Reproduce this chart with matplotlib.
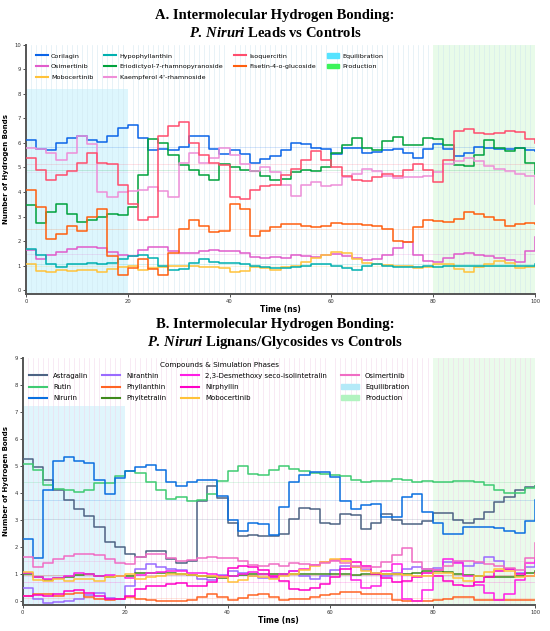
import numpy as np
import matplotlib
matplotlib.use("Agg")
import matplotlib.pyplot as plt
from matplotlib.patches import Patch
from matplotlib.lines import Line2D

plt.rcParams['font.family'] = ['DejaVu Sans']
plt.rcParams['mathtext.fontset'] = 'custom'
plt.rcParams['mathtext.it'] = 'Liberation Serif:italic:bold'
plt.rcParams['mathtext.rm'] = 'Liberation Serif:bold'

# time axis (ns), sampled every 2 ns
time_ns = [0, 2, 4, 6, 8, 10, 12, 14, 16, 18, 20, 22, 24, 26, 28, 30, 32, 34, 36, 38,
           40, 42, 44, 46, 48, 50, 52, 54, 56, 58, 60, 62, 64, 66, 68, 70, 72, 74, 76, 78,
           80, 82, 84, 86, 88, 90, 92, 94, 96, 98, 100]

# ---- panel A: leads ----
corilagin = [6.1, 5.75, 5.7, 6.0, 6.2, 6.3, 6.1, 6.05, 6.3, 6.6, 6.75, 6.2, 5.7, 5.75, 5.7, 5.85, 6.3,
             6.3, 5.75, 5.55, 5.7, 5.55, 5.2, 5.35, 5.45, 5.7, 6.0, 5.95, 5.8, 5.75, 5.55, 5.8, 5.8,
             5.6, 5.65, 5.7, 5.75, 5.6, 5.4, 5.75, 5.95, 5.75, 5.45, 5.6, 5.85, 5.8, 5.75, 5.75,
             5.78, 5.72, 5.68]
isoquercitin = [5.4, 4.9, 4.5, 4.7, 4.86, 5.2, 5.6, 5.2, 5.15, 4.3, 3.5, 2.85, 3.0, 6.3, 6.7, 6.85,
                6.0, 5.5, 5.2, 5.1, 3.8, 3.7, 4.1, 4.25, 4.3, 4.7, 4.95, 5.3, 5.67, 5.3, 5.0, 4.65,
                4.5, 4.46, 4.6, 4.73, 4.65, 4.9, 5.13, 4.9, 4.4, 5.3, 6.5, 6.55, 6.4, 6.35, 6.4,
                6.5, 6.45, 6.15, 6.0]
kaempferol = [5.8, 5.75, 5.6, 5.3, 5.6, 6.28, 5.95, 4.0, 3.8, 4.0, 4.05, 4.1, 4.19, 4.05, 3.8, 5.2,
              5.6, 5.2, 5.4, 5.8, 5.5, 5.13, 4.86, 5.0, 4.8, 4.3, 3.85, 4.3, 4.4, 4.26, 4.3, 4.6,
              4.73, 4.93, 4.85, 4.66, 4.57, 4.6, 4.6, 4.66, 4.8, 5.13, 5.27, 5.4, 5.27, 5.07, 4.93,
              4.86, 4.73, 4.65, 3.5]
eriodictyol = [3.45, 2.75, 3.2, 3.5, 3.1, 2.77, 2.85, 3.0, 3.1, 3.05, 3.4, 4.7, 6.15, 6.0, 5.5, 5.1,
               4.9, 4.7, 4.5, 5.13, 5.0, 4.9, 4.86, 4.66, 4.5, 4.55, 4.8, 4.9, 4.86, 5.0, 5.6, 5.9,
               6.2, 5.8, 5.7, 6.08, 6.25, 5.9, 5.9, 6.2, 6.15, 5.9, 5.1, 5.07, 5.5, 6.1, 5.8, 5.67,
               5.8, 5.2, 4.75]
fisetin = [4.1, 3.4, 2.1, 2.3, 2.6, 2.43, 2.97, 3.3, 1.4, 0.6, 0.9, 1.25, 0.85, 0.62, 1.5, 2.5, 2.84,
           2.63, 2.35, 2.4, 3.5, 3.3, 2.2, 2.4, 2.57, 2.7, 2.7, 2.62, 2.57, 2.62, 2.75, 2.7, 2.7,
           2.65, 2.62, 2.5, 2.0, 1.96, 2.57, 2.85, 2.82, 2.77, 2.9, 3.18, 3.1, 2.97, 2.85, 2.62,
           2.7, 2.75, 2.7]
hypophyllanthin = [1.69, 1.45, 1.05, 0.95, 1.05, 1.05, 1.1, 1.07, 1.1, 1.25, 1.4, 1.45, 1.3, 1.0,
                   0.82, 0.85, 1.1, 1.28, 1.15, 1.1, 1.1, 1.05, 0.98, 0.95, 0.9, 0.92, 0.95, 1.0,
                   1.08, 1.05, 0.97, 0.9, 0.82, 0.98, 1.07, 1.0, 0.95, 0.95, 0.95, 0.97, 0.95, 0.97,
                   0.97, 1.0, 1.0, 1.0, 1.0, 1.0, 0.98, 1.0, 1.05]

# ---- controls (shared by both panels) ----
osimertinib = [1.62, 1.25, 1.42, 1.55, 1.69, 1.76, 1.76, 1.72, 1.55, 1.42, 1.38, 1.62, 1.76, 1.74,
               1.6, 1.5, 1.52, 1.58, 1.62, 1.58, 1.6, 1.5, 1.35, 1.32, 1.36, 1.3, 1.42, 1.38, 1.35,
               1.42, 1.49, 1.4, 1.3, 1.22, 1.25, 1.45, 1.7, 1.96, 1.45, 1.2, 1.15, 1.3, 1.49, 1.5,
               1.45, 1.38, 1.3, 1.22, 1.15, 1.6, 2.16]
mobocertinib = [1.08, 0.78, 0.75, 0.84, 0.76, 0.81, 0.81, 0.75, 0.88, 0.95, 1.0, 0.84, 0.9, 0.95,
                1.0, 1.0, 0.98, 0.95, 0.95, 0.9, 0.72, 0.78, 0.95, 0.9, 0.82, 0.95, 1.0, 1.15, 1.3,
                1.45, 1.55, 1.5, 1.25, 1.12, 1.05, 1.02, 1.0, 0.97, 0.92, 0.95, 1.05, 1.05, 0.85,
                0.75, 0.95, 1.08, 1.2, 1.1, 0.9, 0.95, 1.0]

# ---- panel B: lignans / glycosides ----
astragalin = [5.27, 4.95, 4.5, 4.1, 3.75, 3.4, 3.15, 2.75, 2.2, 2.0, 1.75, 1.62, 1.85, 1.85, 1.55,
              1.42, 1.5, 3.7, 4.27, 3.8, 2.9, 2.4, 2.45, 2.42, 2.42, 2.48, 3.05, 3.45, 3.4, 2.9,
              2.85, 3.22, 3.2, 2.68, 2.9, 3.22, 3.0, 2.85, 2.85, 2.95, 3.25, 3.28, 3.0, 2.9, 3.05,
              3.3, 3.65, 3.84, 4.1, 4.24, 4.27]
rutin = [5.08, 4.85, 4.3, 4.15, 4.12, 4.03, 4.1, 4.37, 4.38, 4.62, 4.8, 4.75, 4.42, 4.1, 3.78, 3.85,
         3.72, 3.73, 3.95, 4.45, 4.8, 5.0, 4.7, 4.65, 4.85, 5.0, 4.88, 4.8, 4.75, 4.72, 4.68, 4.62,
         4.5, 4.42, 4.45, 4.45, 4.52, 4.48, 4.4, 4.45, 4.42, 4.42, 4.45, 4.45, 4.42, 4.28, 4.1, 4.0,
         4.0, 4.18, 4.27]
nirurin = [2.3, 1.6, 4.1, 5.2, 5.33, 5.2, 5.1, 4.5, 3.95, 4.55, 4.8, 4.95, 5.05, 4.85, 4.4, 4.25,
           4.4, 4.5, 4.5, 3.9, 3.0, 2.6, 2.9, 2.85, 2.45, 3.5, 4.4, 4.65, 4.77, 4.77, 4.6, 3.7, 3.4,
           3.55, 3.6, 3.1, 3.1, 3.85, 3.95, 3.3, 2.9, 2.48, 2.5, 2.73, 2.75, 2.73, 2.7, 2.6, 2.54,
           2.97, 3.74]
niranthin = [0.5, 0.1, -0.05, -0.03, 0.02, 0.1, 0.22, 0.3, 0.12, 0.08, 0.55, 1.2, 1.36, 1.28, 1.2,
             1.15, 0.97, 0.82, 0.8, 0.98, 1.13, 1.05, 0.95, 0.87, 0.85, 0.97, 1.1, 0.95, 0.82, 0.95,
             1.15, 1.3, 1.28, 1.15, 1.05, 0.95, 1.05, 1.2, 1.28, 1.2, 1.22, 1.45, 1.45, 1.32, 1.4,
             1.65, 1.5, 1.2, 1.05, 1.25, 1.49]
phyllanthin = [0.19, 0.28, 0.28, 0.2, 0.25, 0.3, 0.15, 0.1, 0.06, 0.08, 0.15, 0.1, 0.03, 0.0, 0.0,
               0.02, 0.06, 0.15, 0.27, 0.15, 0.03, 0.12, 0.22, 0.26, 0.15, 0.04, 0.08, 0.1, 0.15,
               0.22, 0.28, 0.33, 0.33, 0.28, 0.27, 0.25, 0.04, 0.0, 0.0, 0.02, 0.06, 0.1, 0.17, 0.15,
               0.06, 0.03, 0.03, 0.03, 0.03, 0.03, 0.03]
phyltetralin = [0.99, 0.9, 0.8, 0.85, 0.88, 0.98, 1.0, 0.94, 0.88, 0.92, 0.95, 1.04, 1.05, 1.05,
                1.05, 1.02, 0.97, 0.94, 0.88, 0.87, 0.92, 0.98, 0.99, 0.99, 0.99, 1.0, 1.0, 0.99,
                0.99, 0.99, 0.99, 0.99, 0.97, 0.99, 0.99, 0.99, 0.99, 1.0, 1.04, 1.1, 1.12, 1.08,
                1.02, 0.97, 0.93, 0.9, 0.89, 0.9, 0.93, 1.05, 1.12]
desmethoxy = [1.05, 0.9, 0.84, 0.85, 0.95, 1.03, 1.0, 0.95, 0.97, 0.95, 0.87, 0.98, 1.05, 1.09, 1.12,
              1.1, 1.05, 1.05, 1.0, 0.93, 0.93, 1.0, 1.08, 1.0, 0.88, 0.99, 1.1, 1.2, 1.35, 1.45,
              1.52, 1.55, 0.8, 0.5, 0.55, 1.1, 1.36, 0.1, 0.0, 0.4, 1.15, 1.55, 1.4, 0.95, 0.6, 0.3,
              0.05, 0.25, 0.8, 1.4, 1.61]
nirphyllin = [0.19, 0.22, 0.2, 0.25, 0.38, 0.4, 0.31, 0.19, 0.1, 0.1, 0.2, 0.45, 0.56, 0.58, 0.64,
              0.66, 0.55, 0.55, 0.72, 0.9, 1.24, 1.3, 1.28, 1.15, 0.95, 0.74, 0.45, 0.4, 0.5, 0.65,
              0.9, 1.2, 1.45, 1.3, 1.0, 0.85, 0.7, 0.75, 0.9, 1.05, 0.95, 0.75, 0.6, 0.55, 0.7, 0.9,
              1.1, 1.2, 1.0, 0.95, 1.05]

series_a = [
    ("Corilagin", corilagin, "#0a64e8"),
    ("Osimertinib", osimertinib, "#e05ccb"),
    ("Mobocertinib", mobocertinib, "#ffc23a"),
    ("Hypophyllanthin", hypophyllanthin, "#00b0b0"),
    ("Eriodictyol-7-rhamnopyranoside", eriodictyol, "#00a23c"),
    ("Kaempferol 4'-rhamnoside", kaempferol, "#ee8ed8"),
    ("Isoquercitin", isoquercitin, "#ff4d6d"),
    ("Fisetin-4-o-glucoside", fisetin, "#ff5f0f"),
]
series_b = [
    ("Astragalin", astragalin, "#4d6384"),
    ("Rutin", rutin, "#3fcb72"),
    ("Nirurin", nirurin, "#0a6fe0"),
    ("Niranthin", niranthin, "#9a6bff"),
    ("Phyllanthin", phyllanthin, "#ff6424"),
    ("Phyltetralin", phyltetralin, "#3f8a1c"),
    ("2,3-Desmethoxy seco-isolintetralin", desmethoxy, "#ff1ee6"),
    ("Nirphyllin", nirphyllin, "#ff00c8"),
    ("Mobocertinib", mobocertinib, "#ffc23a"),
    ("Osimertinib", osimertinib, "#f06cc4"),
]

fig = plt.figure(figsize=(5.5, 6.31), dpi=100)
ax_a = fig.add_axes([0.047, 0.534, 0.926, 0.395])
ax_b = fig.add_axes([0.041, 0.041, 0.932, 0.392])


def style_axis(ax, ymax, grid_color):
    ax.set_xlim(0, 100)
    ax.set_ylim(-0.16 * ymax / 10, ymax)
    ax.set_xticks([0, 20, 40, 60, 80, 100])
    ax.set_yticks(range(0, int(ymax) + 1))
    ax.set_xticks(range(0, 101), minor=True)
    ax.grid(True, which='minor', axis='x', color=grid_color, lw=0.5, alpha=0.7)
    ax.tick_params(which='minor', length=0)
    ax.tick_params(which='major', labelsize=3.8, length=2, width=0.6, pad=1.5, colors='#333333')
    for s in ['top', 'right']:
        ax.spines[s].set_visible(False)
    for s in ['left', 'bottom']:
        ax.spines[s].set_color('#555555')
        ax.spines[s].set_linewidth(1.4)
    ax.set_axisbelow(True)
    ax.set_xlabel("Time (ns)", fontsize=5.5, fontweight='bold', labelpad=1)
    ax.set_ylabel("Number of Hydrogen Bonds", fontsize=5, fontweight='bold', labelpad=4)


title_kw = dict(ha='center', va='center', family='Liberation Serif', fontweight='bold',
                fontsize=10.5)

# ---- panel A ----
style_axis(ax_a, 10, '#d0e6ef')
ax_a.fill_between([0, 20], -0.2, 8.2, color='#ddf6fd', lw=0, zorder=0)
ax_a.fill_between([80, 100], -0.2, 10, color='#e8fbe9', lw=0, zorder=0)
for name, vals, col in series_a:
    ax_a.axhline(np.mean(vals), color=col, lw=0.6, alpha=0.2, zorder=1)
    ax_a.step(time_ns, vals, where='post', color=col, lw=1.1, zorder=3)

handles_a = [Line2D([], [], color=c, lw=1.5) for _, _, c in series_a]
labels_a = [n for n, _, _ in series_a]
handles_a += [Patch(color='#55e3ff'), Patch(color='#3cf45a')]
labels_a += ["Equilibration", "Production"]
ax_a.legend(handles_a, labels_a, ncol=4, loc='upper left', bbox_to_anchor=(0.008, 0.99),
            frameon=False, fontsize=4.6, handlelength=1.9, columnspacing=1.7, labelspacing=0.85,
            handletextpad=0.5)

fig.text(0.5, 0.975, "A. Intermolecular Hydrogen Bonding:", **title_kw)
fig.text(0.5, 0.948, r"$\mathit{P.\,Niruri}$ Leads vs Controls", **title_kw)

# ---- panel B ----
style_axis(ax_b, 9, '#f2d6ea')
ax_b.fill_between([0, 20], -0.2, 7.2, color='#e0f5fc', lw=0, zorder=0)
ax_b.fill_between([80, 100], -0.2, 9, color='#eafbeb', lw=0, zorder=0)
for name, vals, col in series_b:
    ax_b.axhline(np.mean(vals), color=col, lw=0.6, alpha=0.2, zorder=1)
    ax_b.step(time_ns, vals, where='post', color=col, lw=1.1, zorder=3)

handles_b = [Line2D([], [], color=c, lw=1.5) for _, _, c in series_b]
labels_b = [n for n, _, _ in series_b]
handles_b += [Patch(color='#b4eaf8'), Patch(color='#b2f3c0')]
labels_b += ["Equilibration", "Production"]
ax_b.legend(handles_b, labels_b, ncol=4, loc='upper left', bbox_to_anchor=(0.0, 1.01),
            frameon=False, fontsize=5, handlelength=2.6, columnspacing=2.0,
            labelspacing=0.75, handletextpad=0.9,
            title="Compounds & Simulation Phases", title_fontsize=5.2)

fig.text(0.5, 0.485, "B. Intermolecular Hydrogen Bonding:", **title_kw)
fig.text(0.5, 0.457, r"$\mathit{P.\,Niruri}$ Lignans/Glycosides vs Controls", **title_kw)

fig.savefig("out.png", dpi=100)
